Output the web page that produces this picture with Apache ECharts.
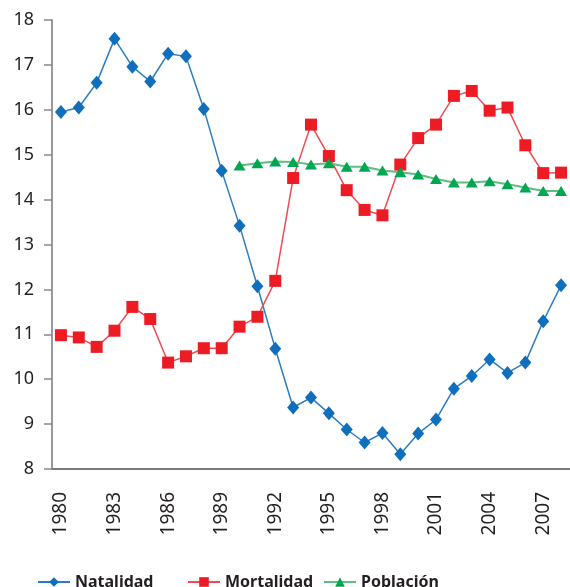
<!DOCTYPE html>
<html lang="es">
<head>
    <meta charset="UTF-8">
    <title>Natalidad, Mortalidad y Población</title>
    <script src="https://cdn.jsdelivr.net/npm/echarts@6/dist/echarts.min.js"></script>
    <style>
        * { margin: 0; padding: 0; box-sizing: border-box; }
        body { background: #ffffff; }
        #chart { width: 570px; height: 587px; }
    </style>
</head>
<body>
    <div id="chart"></div>
    <script>
        // years on the x axis
        const years = [];
        for (let y = 1980; y <= 2008; y++) years.push(String(y));

        // values
        const natalidad = [15.95, 16.05, 16.6, 17.58, 16.96, 16.63, 17.25, 17.19, 16.02, 14.64,
            13.42, 12.07, 10.68, 9.37, 9.59, 9.24, 8.88, 8.59, 8.8, 8.33,
            8.79, 9.1, 9.79, 10.07, 10.44, 10.14, 10.37, 11.29, 12.09];
        const mortalidad = [10.98, 10.93, 10.72, 11.08, 11.61, 11.34, 10.37, 10.51, 10.69, 10.69,
            11.17, 11.39, 12.19, 14.48, 15.67, 14.97, 14.21, 13.77, 13.65, 14.78,
            15.37, 15.67, 16.31, 16.42, 15.98, 16.05, 15.21, 14.59, 14.6];
        const poblacion = [null, null, null, null, null, null, null, null, null, null,
            14.76, 14.81, 14.85, 14.84, 14.78, 14.81, 14.73, 14.73, 14.65, 14.61,
            14.56, 14.46, 14.38, 14.38, 14.41, 14.34, 14.27, 14.19, 14.19];

        const textColor = '#231f20';
        const chart = echarts.init(document.getElementById('chart'));

        function legendAt(name, left) {
            return {
                data: [name],
                left: left,
                top: 574,
                itemWidth: 32,
                itemHeight: 12,
                itemGap: 4,
                padding: 0,
                textStyle: { color: textColor, fontSize: 16, fontWeight: 'bold', fontFamily: 'Noto Sans' }
            };
        }

        chart.setOption({
            animation: false,
            legend: [
                legendAt('Natalidad', 37),
                legendAt('Mortalidad', 187),
                legendAt('Población', 323)
            ],
            grid: { left: 52, top: 20, width: 518, height: 449 },
            xAxis: {
                type: 'category',
                data: years,
                boundaryGap: true,
                axisLine: { lineStyle: { color: '#7a7a7a', width: 2 } },
                axisTick: { interval: 0, length: 8, lineStyle: { color: '#444', width: 1.5 } },
                axisLabel: {
                    interval: 2,
                    rotate: 90,
                    margin: 23,
                    color: textColor,
                    fontSize: 19,
                    fontFamily: 'Noto Sans'
                },
                splitLine: { show: false }
            },
            yAxis: {
                type: 'value',
                min: 8,
                max: 18,
                interval: 1,
                axisLine: { show: true, lineStyle: { color: '#999', width: 2 } },
                axisTick: { show: true, length: 8, lineStyle: { color: '#888', width: 1.5 } },
                axisLabel: { margin: 18, color: textColor, fontSize: 18, fontFamily: 'Noto Sans' },
                splitLine: { show: false }
            },
            series: [
                {
                    name: 'Natalidad',
                    type: 'line',
                    data: natalidad,
                    symbol: 'diamond',
                    symbolSize: [12, 14],
                    showAllSymbol: true,
                    itemStyle: { color: '#0f6fbd' },
                    lineStyle: { color: '#2b7cc3', width: 1.5 }
                },
                {
                    name: 'Mortalidad',
                    type: 'line',
                    data: mortalidad,
                    symbol: 'rect',
                    symbolSize: 12,
                    showAllSymbol: true,
                    itemStyle: { color: '#ed1c24' },
                    lineStyle: { color: '#f04a52', width: 1.5 }
                },
                {
                    name: 'Población',
                    type: 'line',
                    data: poblacion,
                    symbol: 'triangle',
                    symbolSize: [12, 10],
                    showAllSymbol: true,
                    itemStyle: { color: '#00a651' },
                    lineStyle: { color: '#5cbf7f', width: 2 }
                }
            ]
        });
    </script>
</body>
</html>
